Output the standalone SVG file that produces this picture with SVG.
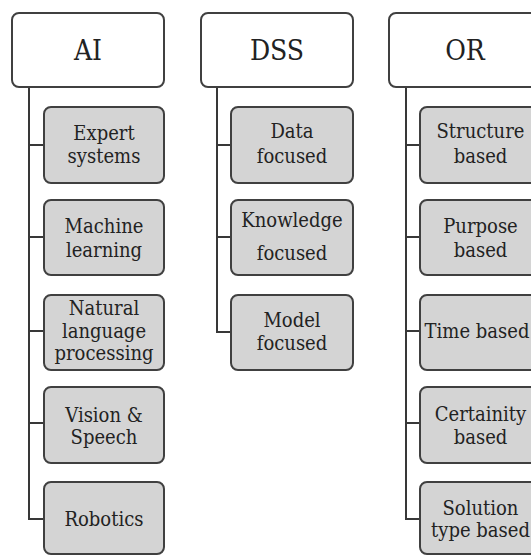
<svg xmlns="http://www.w3.org/2000/svg" width="531" height="556" viewBox="0 0 531 556">
<style>
.hdr{fill:#ffffff;stroke:#404040;stroke-width:2}
.box{fill:#d4d4d4;stroke:#404040;stroke-width:2}
.conn{fill:none;stroke:#383838;stroke-width:2}
.ht{font-size:28px}
.bt{font-size:20px}
</style>
<rect width="531" height="556" fill="#ffffff"/>
<g id="connectors">
<path class="conn" d="M29,87 V519 H44 M29,145 H44 M29,237 H44 M29,331 H44 M29,423 H44"/>
<path class="conn" d="M217,87 V332 H231 M217,145 H231 M217,237 H231"/>
<path class="conn" d="M406,87 V519 H420 M406,145 H420 M406,237 H420 M406,331 H420 M406,423 H420"/>
</g>
<g font-family="'DejaVu Serif Condensed', 'DejaVu Serif', serif" fill="#222" text-anchor="middle">
<g id="ai">
<rect class="hdr" x="12" y="13" width="152" height="74" rx="7"/>
<text class="ht" x="88" y="60">AI</text>
</g>
<g id="expert-systems">
<rect class="box" x="44" y="107" width="120" height="76" rx="7"/>
<text class="bt" x="104" y="140">Expert</text>
<text class="bt" x="104" y="163">systems</text>
</g>
<g id="machine-learning">
<rect class="box" x="44" y="200" width="120" height="75" rx="7"/>
<text class="bt" x="104" y="233">Machine</text>
<text class="bt" x="104" y="257">learning</text>
</g>
<g id="nlp">
<rect class="box" x="44" y="295" width="120" height="75" rx="7"/>
<text class="bt" x="104" y="315">Natural</text>
<text class="bt" x="104" y="338">language</text>
<text class="bt" x="104" y="360">processing</text>
</g>
<g id="vision-speech">
<rect class="box" x="44" y="387" width="120" height="76" rx="7"/>
<text class="bt" x="104" y="422">Vision &amp;</text>
<text class="bt" x="104" y="444">Speech</text>
</g>
<g id="robotics">
<rect class="box" x="44" y="482" width="120" height="72" rx="7"/>
<text class="bt" x="104" y="526">Robotics</text>
</g>
<g id="dss">
<rect class="hdr" x="201" y="13" width="152" height="74" rx="7"/>
<text class="ht" x="277" y="60">DSS</text>
</g>
<g id="data-focused">
<rect class="box" x="231" y="107" width="122" height="76" rx="7"/>
<text class="bt" x="292" y="138">Data</text>
<text class="bt" x="292" y="163">focused</text>
</g>
<g id="knowledge-focused">
<rect class="box" x="231" y="200" width="122" height="75" rx="7"/>
<text class="bt" x="292" y="227">Knowledge</text>
<text class="bt" x="292" y="260">focused</text>
</g>
<g id="model-focused">
<rect class="box" x="231" y="295" width="122" height="75" rx="7"/>
<text class="bt" x="292" y="327">Model</text>
<text class="bt" x="292" y="350">focused</text>
</g>
<g id="or">
<rect class="hdr" x="389" y="13" width="152" height="74" rx="7"/>
<text class="ht" x="465" y="60">OR</text>
</g>
<g id="structure-based">
<rect class="box" x="420" y="107" width="121" height="76" rx="7"/>
<text class="bt" x="480.5" y="138">Structure</text>
<text class="bt" x="480.5" y="163">based</text>
</g>
<g id="purpose-based">
<rect class="box" x="420" y="200" width="121" height="75" rx="7"/>
<text class="bt" x="480.5" y="233">Purpose</text>
<text class="bt" x="480.5" y="257">based</text>
</g>
<g id="time-based">
<rect class="box" x="420" y="295" width="121" height="75" rx="7"/>
<text class="bt" x="477" y="338">Time based</text>
</g>
<g id="certainity-based">
<rect class="box" x="420" y="387" width="121" height="76" rx="7"/>
<text class="bt" x="480.5" y="421">Certainity</text>
<text class="bt" x="480.5" y="444">based</text>
</g>
<g id="solution-type-based">
<rect class="box" x="420" y="482" width="121" height="72" rx="7"/>
<text class="bt" x="480.5" y="515">Solution</text>
<text class="bt" x="480.5" y="537">type based</text>
</g>
</g>
</svg>
